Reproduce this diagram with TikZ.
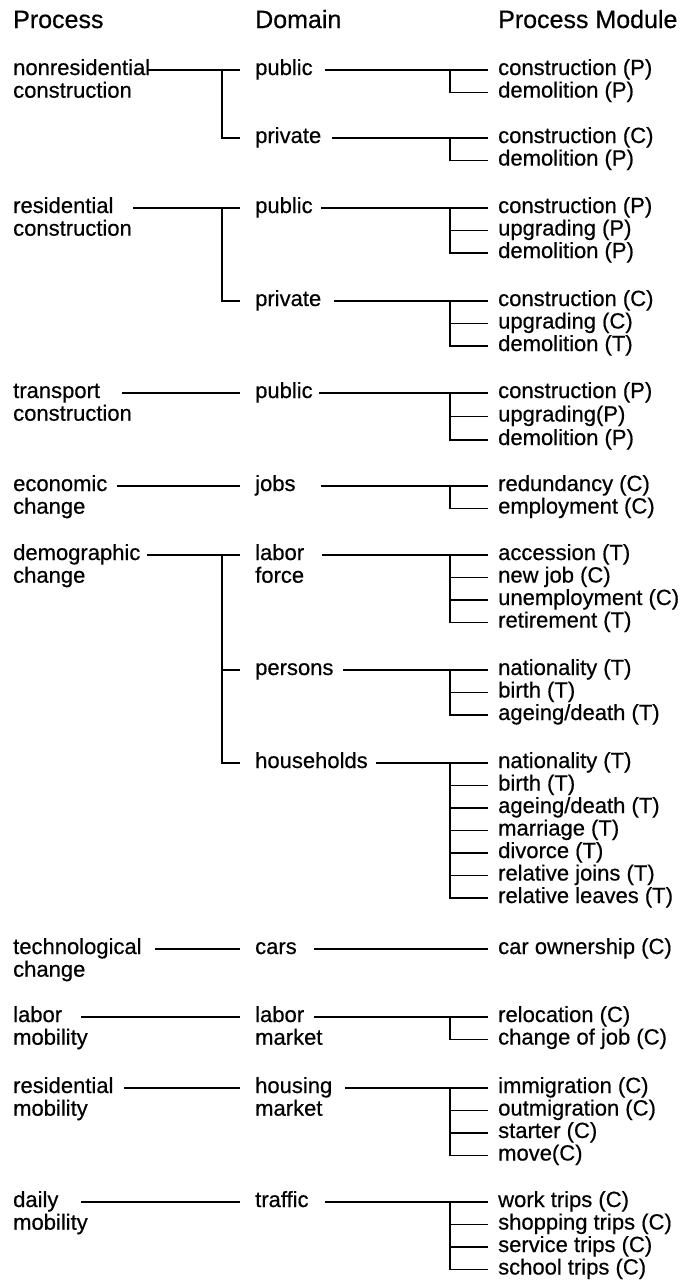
\documentclass[tikz,border=0pt]{standalone}
\usepackage{fontspec}
\setmainfont{Liberation Sans}[FakeBold=0.5]
\newcommand\twol[2]{\begin{tabular}[t]{@{}l@{}}#1\\#2\end{tabular}}
% line from a free start (x,y) to the left of domain node
\newcommand\todom[3]{\draw[ln] (#1,#2) -- ([xshift=-15pt,yshift=5pt]#3.base west);}
\newcommand\tomod[3]{\draw[ln] (#1,#2) -- ([xshift=-10pt,yshift=5pt]#3.base west);}
\newcommand\vtick[2]{\draw[ln] (450,#1) |- ([xshift=-10pt,yshift=5pt]#2.base west);}
\newcommand\dtick[2]{\draw[ln] (222,#1) |- ([xshift=-15pt,yshift=5pt]#2.base west);}
\tikzset{
  lab/.style={anchor=base west, inner sep=0pt, font=\fontsize{22}{22.5}\selectfont},
  hdr/.style={anchor=base west, inner sep=0pt, font=\fontsize{25}{27}\selectfont},
  ln/.style={line width=1.6pt},
}
\begin{document}
\begin{tikzpicture}[x=1pt,y=-1pt]
\useasboundingbox[fill=white] (0,0) rectangle (685,1282);
% headers
\node[hdr] (h1) at (13,28) {Process};
\node[hdr] (h2) at (255,28) {Domain};
\node[hdr] (h3) at (498,28) {Process Module};

% ---- G1
\node[lab] (p1) at (13,75) {\twol{nonresidential}{construction}};
\node[lab] (d1a) at (255,75) {public};
\node[lab] (d1b) at (255,143) {private};
\node[lab] (m1a1) at (498,75) {construction (P)};
\node[lab] (m1a2) at (498,97.5) {demolition (P)};
\node[lab] (m1b1) at (498,143) {construction (C)};
\node[lab] (m1b2) at (498,165.5) {demolition (P)};
\todom{148}{70}{d1a}
\dtick{70}{d1b}
\tomod{325}{70}{m1a1}
\vtick{70}{m1a2}
\tomod{332}{138}{m1b1}
\vtick{138}{m1b2}

% ---- G2
\node[lab] (p2) at (13,213) {\twol{residential}{construction}};
\node[lab] (d2a) at (255,213) {public};
\node[lab] (d2b) at (255,306) {private};
\node[lab] (m2a1) at (498,213) {construction (P)};
\node[lab] (m2a2) at (498,235.5) {upgrading (P)};
\node[lab] (m2a3) at (498,258) {demolition (P)};
\node[lab] (m2b1) at (498,306) {construction (C)};
\node[lab] (m2b2) at (498,328.5) {upgrading (C)};
\node[lab] (m2b3) at (498,351) {demolition (T)};
\todom{133}{208}{d2a}
\dtick{208}{d2b}
\tomod{321}{208}{m2a1}
\vtick{208}{m2a2}
\vtick{208}{m2a3}
\tomod{334}{301}{m2b1}
\vtick{301}{m2b2}
\vtick{301}{m2b3}

% ---- G3
\node[lab] (p3) at (13,398) {\twol{transport}{construction}};
\node[lab] (d3) at (255,398) {public};
\node[lab] (m3a) at (498,398) {construction (P)};
\node[lab] (m3b) at (498,421.5) {upgrading(P)};
\node[lab] (m3c) at (498,445) {demolition (P)};
\todom{122}{393}{d3}
\tomod{319}{393}{m3a}
\vtick{393}{m3b}
\vtick{393}{m3c}

% ---- G4
\node[lab] (p4) at (13,491) {\twol{economic}{change}};
\node[lab] (d4) at (255,491) {jobs};
\node[lab] (m4a) at (498,491) {redundancy (C)};
\node[lab] (m4b) at (498,513.5) {employment (C)};
\todom{117}{486}{d4}
\tomod{321}{486}{m4a}
\vtick{486}{m4b}

% ---- G5
\node[lab] (p5) at (13,560) {\twol{demographic}{change}};
\node[lab] (d5a) at (255,560) {\twol{labor}{force}};
\node[lab] (d5b) at (255,675) {persons};
\node[lab] (d5c) at (255,768) {households};
\node[lab] (m5a1) at (498,560) {accession (T)};
\node[lab] (m5a2) at (498,582.5) {new job (C)};
\node[lab] (m5a3) at (498,605) {unemployment (C)};
\node[lab] (m5a4) at (498,627.5) {retirement (T)};
\node[lab] (m5b1) at (498,675) {nationality (T)};
\node[lab] (m5b2) at (498,697.5) {birth (T)};
\node[lab] (m5b3) at (498,720) {ageing/death (T)};
\node[lab] (m5c1) at (498,768) {nationality (T)};
\node[lab] (m5c2) at (498,790.5) {birth (T)};
\node[lab] (m5c3) at (498,813) {ageing/death (T)};
\node[lab] (m5c4) at (498,835.5) {marriage (T)};
\node[lab] (m5c5) at (498,858) {divorce (T)};
\node[lab] (m5c6) at (498,880.5) {relative joins (T)};
\node[lab] (m5c7) at (498,903) {relative leaves (T)};
\todom{147}{555}{d5a}
\dtick{555}{d5b}
\dtick{555}{d5c}
\tomod{322}{555}{m5a1}
\vtick{555}{m5a2}
\vtick{555}{m5a3}
\vtick{555}{m5a4}
\tomod{343}{670}{m5b1}
\vtick{670}{m5b2}
\vtick{670}{m5b3}
\tomod{376}{763}{m5c1}
\vtick{763}{m5c2}
\vtick{763}{m5c3}
\vtick{763}{m5c4}
\vtick{763}{m5c5}
\vtick{763}{m5c6}
\vtick{763}{m5c7}

% ---- G6
\node[lab] (p6) at (13,954) {\twol{technological}{change}};
\node[lab] (d6) at (255,954) {cars};
\node[lab] (m6) at (498,954) {car ownership (C)};
\todom{155}{949}{d6}
\tomod{314}{949}{m6}

% ---- G7
\node[lab] (p7) at (13,1022) {\twol{labor}{mobility}};
\node[lab] (d7) at (255,1022) {\twol{labor}{market}};
\node[lab] (m7a) at (498,1022) {relocation (C)};
\node[lab] (m7b) at (498,1044.5) {change of job (C)};
\todom{81}{1017}{d7}
\tomod{314}{1017}{m7a}
\vtick{1017}{m7b}

% ---- G8
\node[lab] (p8) at (13,1093) {\twol{residential}{mobility}};
\node[lab] (d8) at (255,1093) {\twol{housing}{market}};
\node[lab] (m8a) at (498,1093) {immigration (C)};
\node[lab] (m8b) at (498,1115.5) {outmigration (C)};
\node[lab] (m8c) at (498,1138) {starter (C)};
\node[lab] (m8d) at (498,1160.5) {move(C)};
\todom{124}{1088}{d8}
\tomod{345}{1088}{m8a}
\vtick{1088}{m8b}
\vtick{1088}{m8c}
\vtick{1088}{m8d}

% ---- G9
\node[lab] (p9) at (13,1207) {\twol{daily}{mobility}};
\node[lab] (d9) at (255,1207) {traffic};
\node[lab] (m9a) at (498,1207) {work trips (C)};
\node[lab] (m9b) at (498,1229.5) {shopping trips (C)};
\node[lab] (m9c) at (498,1252) {service trips (C)};
\node[lab] (m9d) at (498,1274.5) {school trips (C)};
\todom{81}{1202}{d9}
\tomod{325}{1202}{m9a}
\vtick{1202}{m9b}
\vtick{1202}{m9c}
\vtick{1202}{m9d}
\end{tikzpicture}
\end{document}
